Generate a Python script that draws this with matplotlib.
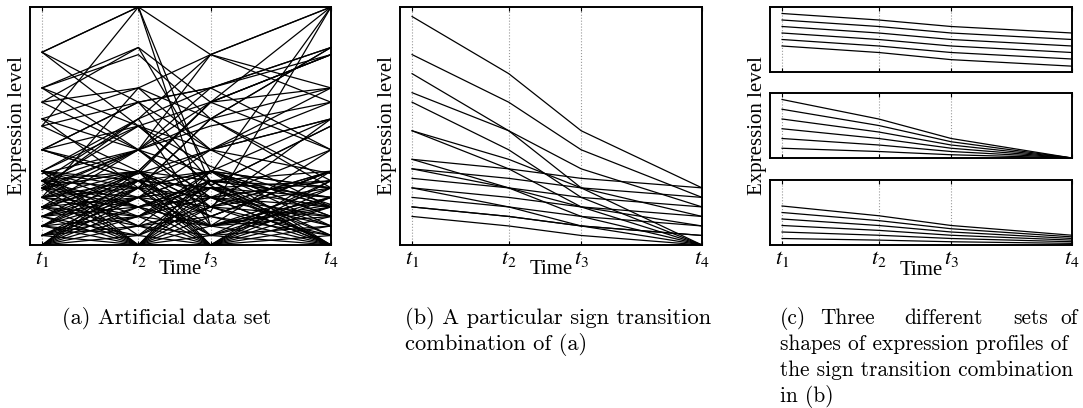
import matplotlib
matplotlib.use("Agg")
import matplotlib.pyplot as plt

plt.rcParams['mathtext.fontset'] = 'stix'

times = [0, 4, 7, 12]
tick_labels = [r'$\mathit{t}_{\mathit{1}}$', r'$\mathit{t}_{\mathit{2}}$',
               r'$\mathit{t}_{\mathit{3}}$', r'$\mathit{t}_{\mathit{4}}$']

# (a) artificial data set: upper profiles
upper_a = [
    (0.81, 1.00, 0.80, 0.66), (0.81, 0.60, 0.40, 0.30), (0.81, 0.50, 0.25, 0.00),
    (0.66, 0.83, 0.60, 0.40), (0.66, 0.80, 0.53, 0.27), (0.66, 0.50, 0.33, 0.17),
    (0.60, 0.66, 0.80, 1.00), (0.60, 0.40, 0.20, 0.00), (0.53, 0.66, 0.53, 0.83),
    (0.50, 0.60, 0.66, 0.80), (0.40, 0.50, 0.60, 0.80), (0.40, 0.30, 0.40, 0.53),
    (0.30, 0.40, 0.50, 0.60), (0.25, 0.50, 0.25, 0.50), (0.23, 0.40, 0.53, 0.66),
    (0.15, 0.30, 0.60, 0.66), (0.27, 0.53, 0.80, 1.00), (0.81, 1.00, 0.08, 0.17),
    (0.50, 1.00, 0.25, 0.50), (0.40, 0.27, 0.14, 1.00), (0.20, 0.40, 0.30, 1.00),
    (0.40, 0.60, 0.66, 0.83), (0.53, 0.40, 0.60, 0.80), (0.40, 0.27, 0.40, 0.53),
    (0.40, 0.60, 0.27, 0.00), (0.24, 0.40, 0.20, 0.40), (0.16, 0.40, 0.66, 0.83),
    (0.31, 0.53, 0.66, 0.40), (0.20, 0.66, 0.40, 0.16), (0.50, 0.31, 0.60, 0.80),
    (0.53, 0.24, 0.53, 0.24), (0.60, 0.83, 0.31, 0.53), (0.27, 0.40, 0.80, 0.60),
    (0.12, 0.31, 0.60, 1.00), (0.08, 0.24, 0.53, 0.83), (0.04, 0.20, 0.40, 0.60),
    (0.31, 0.50, 0.40, 0.66), (0.24, 0.53, 0.08, 0.40), (0.66, 0.40, 0.16, 0.53),
]

# (a) artificial data set: dense lower profiles
lower_a = [
    (0.00, 0.31, 0.16, 0.31), (0.00, 0.27, 0.08, 0.24), (0.00, 0.24, 0.31, 0.12),
    (0.00, 0.20, 0.04, 0.16), (0.00, 0.16, 0.24, 0.27), (0.00, 0.12, 0.20, 0.08),
    (0.00, 0.08, 0.12, 0.31), (0.00, 0.04, 0.27, 0.20), (0.31, 0.00, 0.24, 0.08),
    (0.27, 0.00, 0.31, 0.16), (0.24, 0.00, 0.12, 0.31), (0.20, 0.00, 0.16, 0.04),
    (0.16, 0.00, 0.27, 0.24), (0.12, 0.00, 0.08, 0.20), (0.08, 0.00, 0.20, 0.12),
    (0.04, 0.00, 0.04, 0.27), (0.31, 0.24, 0.00, 0.16), (0.27, 0.12, 0.00, 0.31),
    (0.24, 0.31, 0.00, 0.24), (0.20, 0.16, 0.00, 0.08), (0.16, 0.27, 0.00, 0.20),
    (0.12, 0.20, 0.00, 0.12), (0.08, 0.04, 0.00, 0.27), (0.04, 0.08, 0.00, 0.04),
    (0.31, 0.16, 0.08, 0.00), (0.27, 0.31, 0.16, 0.00), (0.24, 0.20, 0.24, 0.00),
    (0.20, 0.27, 0.12, 0.00), (0.16, 0.08, 0.31, 0.00), (0.12, 0.24, 0.04, 0.00),
    (0.08, 0.12, 0.27, 0.00), (0.04, 0.16, 0.20, 0.00), (0.31, 0.27, 0.24, 0.20),
    (0.27, 0.24, 0.20, 0.16), (0.24, 0.31, 0.27, 0.31), (0.20, 0.24, 0.31, 0.24),
    (0.16, 0.20, 0.16, 0.12), (0.12, 0.16, 0.08, 0.16), (0.08, 0.31, 0.12, 0.04),
    (0.04, 0.20, 0.31, 0.08), (0.31, 0.04, 0.20, 0.27), (0.27, 0.16, 0.27, 0.04),
    (0.24, 0.08, 0.16, 0.31), (0.20, 0.12, 0.24, 0.16), (0.16, 0.31, 0.04, 0.20),
    (0.12, 0.27, 0.31, 0.24), (0.08, 0.20, 0.08, 0.12), (0.04, 0.24, 0.12, 0.31),
    (0.31, 0.20, 0.31, 0.12), (0.27, 0.08, 0.04, 0.08), (0.24, 0.16, 0.27, 0.20),
    (0.20, 0.31, 0.20, 0.27), (0.16, 0.12, 0.31, 0.16), (0.12, 0.04, 0.16, 0.24),
    (0.08, 0.27, 0.24, 0.04), (0.04, 0.12, 0.08, 0.20),
]

# (b) one sign transition combination (down, down, down)
profiles_b = [
    (0.96, 0.72, 0.48, 0.24), (0.80, 0.60, 0.40, 0.20), (0.64, 0.48, 0.32, 0.16),
    (0.48, 0.36, 0.24, 0.12), (0.32, 0.24, 0.16, 0.08), (0.16, 0.12, 0.08, 0.04),
    (0.72, 0.48, 0.24, 0.00), (0.60, 0.40, 0.20, 0.00), (0.48, 0.32, 0.16, 0.00),
    (0.36, 0.24, 0.12, 0.00), (0.24, 0.16, 0.08, 0.00), (0.12, 0.08, 0.04, 0.00),
    (0.36, 0.32, 0.28, 0.24), (0.32, 0.28, 0.24, 0.20), (0.28, 0.24, 0.20, 0.16),
    (0.24, 0.20, 0.16, 0.12), (0.20, 0.16, 0.12, 0.08), (0.16, 0.12, 0.08, 0.04),
]

# (c) three shape sets
shape_top = [
    (0.90, 0.80, 0.70, 0.60), (0.80, 0.70, 0.60, 0.50), (0.70, 0.60, 0.50, 0.40),
    (0.60, 0.50, 0.40, 0.30), (0.50, 0.40, 0.30, 0.20), (0.40, 0.30, 0.19, 0.09),
]
shape_mid = [
    (0.90, 0.60, 0.30, 0.00), (0.75, 0.50, 0.25, 0.00), (0.60, 0.40, 0.20, 0.00),
    (0.45, 0.30, 0.15, 0.00), (0.30, 0.20, 0.10, 0.00), (0.15, 0.10, 0.05, 0.00),
]
shape_bot = [
    (0.60, 0.45, 0.30, 0.15), (0.50, 0.375, 0.25, 0.125), (0.40, 0.30, 0.20, 0.10),
    (0.30, 0.225, 0.15, 0.075), (0.20, 0.15, 0.10, 0.05), (0.10, 0.075, 0.05, 0.025),
]

W, H = 1083, 408
fig = plt.figure(figsize=(W / 100, H / 100), dpi=100)


def px_axes(left, top, right, bottom):
    return fig.add_axes([left / W, 1 - bottom / H, (right - left) / W, (bottom - top) / H])


def style(ax, ymax=1.0, show_x=True):
    ax.set_xlim(-0.5, 12)
    ax.set_ylim(0, ymax)
    ax.set_yticks([])
    ax.set_xticks(times)
    ax.grid(axis='x', linestyle=':', color='0.6', linewidth=0.8)
    ax.set_axisbelow(True)
    ax.tick_params(axis='x', direction='in', top=True, length=3, width=0.8, pad=3)
    for s in ax.spines.values():
        s.set_linewidth(1.4)
    if show_x:
        ax.set_xticklabels(tick_labels, fontsize=16)
        ax.set_xlabel('Time', family='Liberation Serif', fontsize=15)
    else:
        ax.set_xticklabels([])


def draw(ax, profiles):
    for p in profiles:
        ax.plot(times, p, color='black', linewidth=0.9, clip_on=False)


# panel (a)
ax_a = px_axes(30, 7, 331, 245)
draw(ax_a, upper_a)
draw(ax_a, lower_a)
style(ax_a)
ax_a.set_ylabel('Expression level', family='Liberation Serif', fontsize=15, labelpad=2)
ax_a.xaxis.set_label_coords(0.5, -0.065)

# panel (b)
ax_b = px_axes(400, 7, 702, 245)
draw(ax_b, profiles_b)
style(ax_b)
ax_b.set_ylabel('Expression level', family='Liberation Serif', fontsize=15, labelpad=2)
ax_b.xaxis.set_label_coords(0.5, -0.065)

# panel (c)
ax_c1 = px_axes(770, 7, 1072, 72)
ax_c2 = px_axes(770, 93, 1072, 158)
ax_c3 = px_axes(770, 180, 1072, 245)
for ax, prof in [(ax_c1, shape_top), (ax_c2, shape_mid), (ax_c3, shape_bot)]:
    draw(ax, prof)
    style(ax, show_x=(ax is ax_c3))
ax_c2.set_ylabel('Expression level', family='Liberation Serif', fontsize=15, labelpad=2)
ax_c3.xaxis.set_label_coords(0.5, -0.24)

# captions
cap = dict(family='cmr10', fontsize=16.2, va='center', ha='left')
fig.text(62 / W, 1 - 318 / H, '(a) Artificial data set', **cap)
fig.text(405 / W, 1 - 318 / H, '(b) A particular sign transition', **cap)
fig.text(405 / W, 1 - 344 / H, 'combination of (a)', **cap)

cap_c = dict(cap, fontsize=15.4)
for word, x in [('(c)', 780), ('Three', 820), ('different', 904), ('sets', 1013), ('of', 1060)]:
    fig.text(x / W, 1 - 318 / H, word, **cap_c)
fig.text(780 / W, 1 - 344 / H, 'shapes of expression profiles of', **cap_c)
fig.text(780 / W, 1 - 370 / H, 'the sign transition combination', **cap_c)
fig.text(780 / W, 1 - 397 / H, 'in (b)', **cap_c)

fig.savefig('out.png', dpi=100)
